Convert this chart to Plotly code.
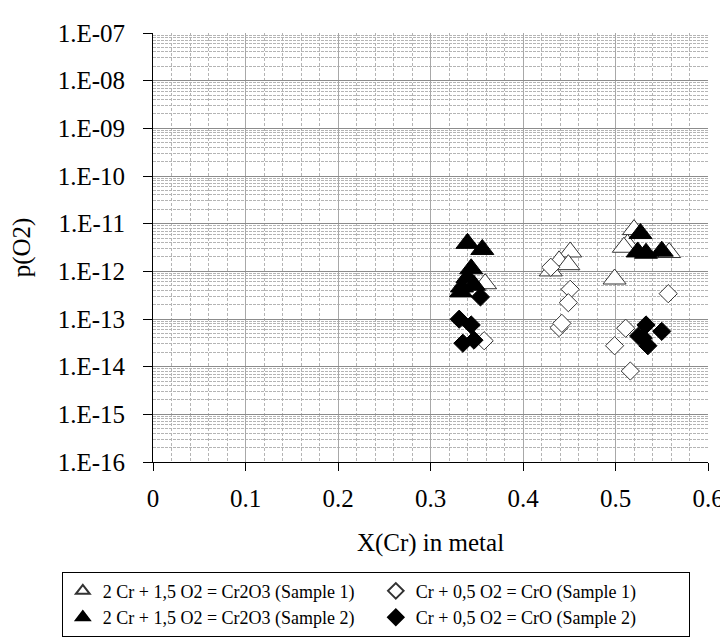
import plotly.graph_objects as go

# ---- data ----
s1_tri_x = [0.359, 0.451, 0.439, 0.449, 0.430, 0.499, 0.520, 0.513, 0.509, 0.558]
s1_tri_y = [5.5e-13, 2.55e-12, 1.66e-12, 1.38e-12, 1.02e-12, 6.9e-13, 7.5e-12, 3.7e-12, 3.2e-12, 2.48e-12]

s1_dia_x = [0.358, 0.430, 0.451, 0.449, 0.439, 0.442, 0.557, 0.511, 0.499, 0.516]
s1_dia_y = [3.5e-14, 1.22e-12, 4.2e-13, 2.2e-13, 6.6e-14, 8.1e-14, 3.4e-13, 6.4e-14, 2.75e-14, 8.1e-15]

s2_tri_x = [0.340, 0.356, 0.344, 0.340, 0.334, 0.333, 0.347, 0.527, 0.524, 0.533, 0.550]
s2_tri_y = [3.86e-12, 2.88e-12, 1.13e-12, 7.4e-13, 4.7e-13, 3.7e-13, 5.1e-13, 6.2e-12, 2.55e-12, 2.4e-12, 2.65e-12]

s2_dia_x = [0.354, 0.331, 0.344, 0.335, 0.347, 0.533, 0.550, 0.525, 0.535, 0.530]
s2_dia_y = [2.9e-13, 9.9e-14, 7.5e-14, 3.1e-14, 3.6e-14, 7.5e-14, 5.5e-14, 4.4e-14, 2.75e-14, 4.0e-14]

names = [
    "2 Cr + 1,5 O2 = Cr2O3 (Sample 1)",
    "Cr + 0,5 O2 = CrO (Sample 1)",
    "2 Cr + 1,5 O2 = Cr2O3 (Sample 2)",
    "Cr + 0,5 O2 = CrO (Sample 2)",
]

y_exps = list(range(-16, -6))
y_ticktext = ["1.E-%02d" % (-e) for e in y_exps]
x_ticks = [0, 0.1, 0.2, 0.3, 0.4, 0.5, 0.6]
x_ticktext = ["0", "0.1", "0.2", "0.3", "0.4", "0.5", "0.6"]

FONT = "Liberation Serif, Times New Roman, serif"

fig = go.Figure()
fig.add_trace(go.Scatter(x=s1_tri_x, y=s1_tri_y, mode="markers", name=names[0],
                         marker=dict(symbol="triangle-up", size=20, color="white",
                                     line=dict(color="#333333", width=1))))
fig.add_trace(go.Scatter(x=s1_dia_x, y=s1_dia_y, mode="markers", name=names[1],
                         marker=dict(symbol="diamond", size=14, color="white",
                                     line=dict(color="#333333", width=1))))
fig.add_trace(go.Scatter(x=s2_tri_x, y=s2_tri_y, mode="markers", name=names[2],
                         marker=dict(symbol="triangle-up", size=20, color="black",
                                     line=dict(color="black", width=1))))
fig.add_trace(go.Scatter(x=s2_dia_x, y=s2_dia_y, mode="markers", name=names[3],
                         marker=dict(symbol="diamond", size=14, color="black",
                                     line=dict(color="black", width=1))))

fig.update_layout(
    width=728, height=640,
    margin=dict(l=143, r=19, t=17, b=173),
    paper_bgcolor="white", plot_bgcolor="white",
    font=dict(family=FONT, size=24, color="black"),
    showlegend=True,
    legend=dict(orientation="h", x=-0.1643, y=-0.2556, xanchor="left", yanchor="top",
                bordercolor="black", borderwidth=1, bgcolor="white",
                font=dict(family=FONT, size=18), itemsizing="constant",
                entrywidth=268, entrywidthmode="pixels", tracegroupgap=0),
    xaxis=dict(range=[0, 0.6], tickvals=x_ticks, ticktext=x_ticktext,
               showline=True, linecolor="black", linewidth=1,
               ticks="outside", ticklen=8, tickcolor="black",
               showgrid=True, gridcolor="#a8a8a8", gridwidth=1,
               minor=dict(dtick=0.02, showgrid=True, gridcolor="#b4b4b4", griddash="3px,2px", gridwidth=1),
               zeroline=False,
               title=dict(text="X(Cr) in metal", font=dict(size=25), standoff=22),
               tickfont=dict(size=25), ticklabelstandoff=6),
    yaxis=dict(type="log", range=[-16, -7],
               tickvals=[10.0 ** e for e in y_exps], ticktext=y_ticktext,
               showline=True, linecolor="black", linewidth=1,
               ticks="outside", ticklen=9, tickcolor="black",
               showgrid=True, gridcolor="#8c8c8c", gridwidth=1,
               minor=dict(dtick="D1", showgrid=True, gridcolor="#b4b4b4", griddash="3px,1px", gridwidth=1),
               zeroline=False,
               title=dict(text="p(O2)", font=dict(size=25), standoff=20),
               tickfont=dict(size=25), ticklabelstandoff=13),
)

fig.write_html("out.html")
